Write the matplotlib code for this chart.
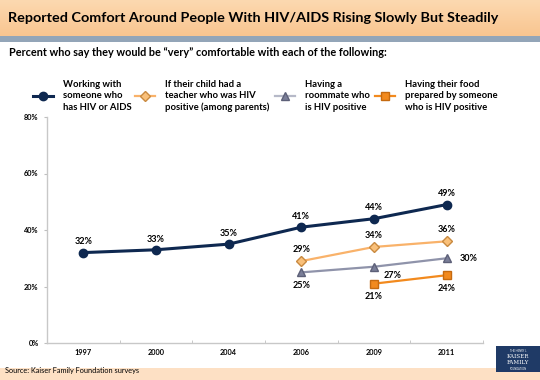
import numpy as np
import matplotlib
matplotlib.use("Agg")
import matplotlib.pyplot as plt
from matplotlib.lines import Line2D
from matplotlib.patches import Rectangle
from matplotlib.colors import LinearSegmentedColormap

plt.rcParams['font.family'] = ['Lato', 'DejaVu Sans']

years = ['1997', '2000', '2004', '2006', '2009', '2011']
working = [32, 33, 35, 41, 44, 49]
teacher = [None, None, None, 29, 34, 36]
roommate = [None, None, None, 25, 27, 30]
food = [None, None, None, None, 21, 24]
legend_labels = ['Working with\nsomeone who\nhas HIV or AIDS',
                 'If their child had a\nteacher who was HIV\npositive (among parents)',
                 'Having a\nroommate who\nis HIV positive',
                 'Having their food\nprepared by someone\nwho is HIV positive']
yticks = [0, 20, 40, 60, 80]

W, H = 540, 380
fig = plt.figure(figsize=(W/100, H/100), dpi=100)

# Banner / background
bg = fig.add_axes([0, 0, 1, 1], zorder=-10)
bg.set_xlim(0, W); bg.set_ylim(H, 0); bg.axis('off')
grad = np.linspace(0, 1, 50).reshape(-1, 1)
cm = LinearSegmentedColormap.from_list('p', ['#fcd9b0', '#f9c590'])
bg.imshow(grad, cmap=cm, extent=[0, W, 36, 0], aspect='auto')
bg.add_patch(Rectangle((0, 36), W, 6, color='#93a5b8', lw=0))
bg.add_patch(Rectangle((0, 368), W, 12, color='#fde0c4', lw=0))
bg.add_patch(Rectangle((496, 346), 44, 26, color='#1f3a66', lw=0))
bg.text(518, 351, 'THE HENRY J.', color='white', fontsize=1.8, ha='center', va='center')
bg.text(518, 357, 'KAISER', color='white', fontsize=4, ha='center', va='center', family='DejaVu Serif')
bg.text(518, 363, 'FAMILY', color='white', fontsize=4, ha='center', va='center', family='DejaVu Serif')
bg.text(518, 368.5, 'FOUNDATION', color='white', fontsize=1.8, ha='center', va='center')

bg.text(8, 18, 'Reported Comfort Around People With HIV/AIDS Rising Slowly But Steadily',
        fontsize=10.4, fontweight='bold', va='center', ha='left', color='black')
bg.text(9, 53, 'Percent who say they would be \u201cvery\u201d comfortable with each of the following:',
        fontsize=7.8, fontweight='bold', va='center', ha='left')
bg.text(5, 370, 'Source: Kaiser Family Foundation surveys', fontsize=5.3, va='center', ha='left')

# Legend
navy = '#0e2850'
lorange = '#f9b26a'
orange = '#f28a1e'
styles = [
    dict(line=dict(color=navy, lw=2.2), mk=dict(marker='o', ms=6, mfc=navy, mec=navy)),
    dict(line=dict(color=lorange, lw=1.6), mk=dict(marker='D', ms=5, mfc='#f9c07a', mec='#c98a40')),
    dict(line=dict(color='#b6b9c8', lw=1.6), mk=dict(marker='^', ms=6, mfc='#7a7e98', mec='#5d6078')),
    dict(line=dict(color=orange, lw=1.6), mk=dict(marker='s', ms=5.5, mfc=orange, mec='#c56a10')),
]
leg_x = [43, 145, 285, 385]
for xx, st, lab in zip(leg_x, styles, legend_labels):
    bg.add_line(Line2D([xx - 10, xx + 10], [96, 96], **st['line']))
    bg.add_line(Line2D([xx], [96], lw=0, **st['mk']))
    bg.text(xx + 20, 96, lab, fontsize=6.8, fontweight='bold', va='center', ha='left', linespacing=1.3)

# Main axes
ax = fig.add_axes([47/W, 1 - 343/H, (483-47)/W, (343-117)/H])
x = np.arange(len(years))
ax.set_xlim(-0.5, len(years) - 0.5)
ax.set_ylim(0, 80)

def series(vals):
    xs = [i for i, v in enumerate(vals) if v is not None]
    ys = [v for v in vals if v is not None]
    return xs, ys

gray_line = '#8f93aa'
for vals, st, lc, z in [(working, styles[0], navy, 5), (teacher, styles[1], lorange, 4),
                        (roommate, styles[2], gray_line, 4), (food, styles[3], orange, 4)]:
    xs, ys = series(vals)
    ln = dict(st['line']); ln['color'] = lc
    ax.plot(xs, ys, zorder=z, **ln, **st['mk'])

fs = 6.5
for i, v in enumerate(working):
    ax.annotate(f'{v}%', (i, v), xytext=(0, 4.5), textcoords='offset points', ha='center', va='bottom',
                fontsize=fs, fontweight='bold')
for i, v in enumerate(teacher):
    if v is not None:
        ax.annotate(f'{v}%', (i, v), xytext=(0, 5), textcoords='offset points', ha='center', va='bottom',
                    fontsize=fs, fontweight='bold')
rm_off = {3: (0, -6, 'center', 'top'), 4: (13, -3, 'center', 'top'), 5: (9, 0, 'left', 'center')}
for i, v in enumerate(roommate):
    if v is not None:
        dx, dy, ha, va = rm_off[i]
        ax.annotate(f'{v}%', (i, v), xytext=(dx, dy), textcoords='offset points', ha=ha, va=va,
                    fontsize=fs, fontweight='bold')
for i, v in enumerate(food):
    if v is not None:
        ax.annotate(f'{v}%', (i, v), xytext=(0, -6), textcoords='offset points', ha='center', va='top',
                    fontsize=fs, fontweight='bold')

ax.set_xticks(x)
ax.set_xticklabels(years, fontsize=5.3, fontweight='bold')
ax.set_xticks(np.arange(len(years) + 1) - 0.5, minor=True)
ax.tick_params(axis='x', which='major', length=0, pad=4)
ax.tick_params(axis='x', which='minor', length=2, color='#bfbfbf', direction='in')
ax.set_yticks(yticks)
ax.set_yticklabels([f'{t}%' for t in yticks], fontsize=5.3, fontweight='bold')
ax.tick_params(axis='y', length=2, color='#bfbfbf', pad=4, direction='out')
for s in ['top', 'right']:
    ax.spines[s].set_visible(False)
for s in ['left', 'bottom']:
    ax.spines[s].set_color('#c8c8c8')
    ax.spines[s].set_linewidth(1.0)
ax.patch.set_alpha(0)

fig.savefig('out.png', dpi=100)
